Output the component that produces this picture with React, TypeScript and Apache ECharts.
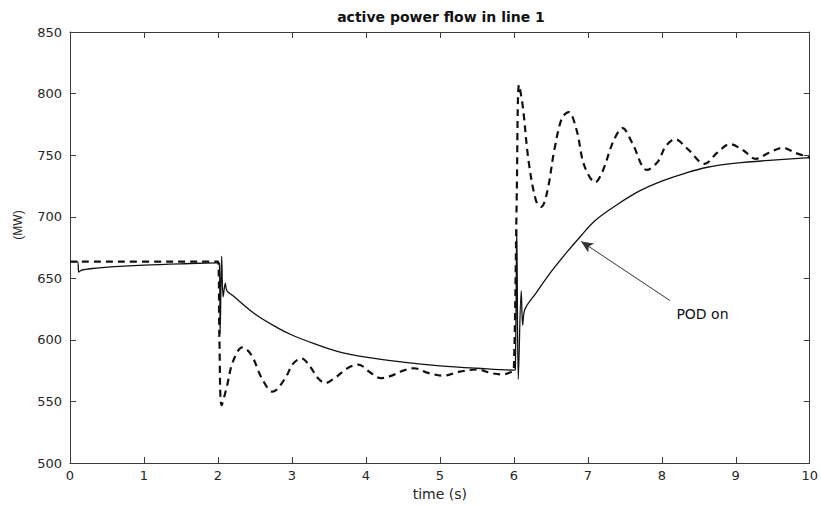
import React, { useEffect, useRef } from "react";
import * as echarts from "echarts";

const titleText = "active power flow in line 1";
const xName = "time (s)";
const yName = "(MW)";
const annotationText = "POD on";

const xTicks = { min: 0, max: 10, interval: 1 };
const yTicks = { min: 500, max: 850, interval: 50 };

// POD on (solid)
const podOnTime = [
  0, 0.1, 0.12, 0.15, 0.3, 0.6, 1.0, 1.5, 2.0, 2.02, 2.03, 2.05, 2.07, 2.1, 2.12, 2.2,
  2.5, 2.8, 3.0, 3.3, 3.6, 4.0, 4.5, 5.0, 5.5, 6.0, 6.02, 6.04, 6.06, 6.1, 6.12, 6.15,
  6.3, 6.5, 6.7, 6.9, 7.1, 7.4, 7.7, 8.0, 8.3, 8.6, 9.0, 9.5, 10,
];
const podOnValue = [
  663.5, 663.5, 655, 656.5, 658, 659.5, 660.8, 661.8, 662.5, 662, 605, 668, 635, 646, 640, 636,
  621, 610, 604, 597, 591, 586, 582, 579, 577, 575.5, 576, 690, 568, 640, 612, 625,
  638, 655, 670, 684, 697, 710, 721, 729, 735, 740, 743.5, 746, 748,
];

// POD off (dashed)
const podOffTime = [
  0, 2.0, 2.02, 2.05, 2.12, 2.2, 2.33, 2.45, 2.6, 2.74, 2.9, 3.02, 3.13, 3.25, 3.35, 3.45,
  3.6, 3.75, 3.9, 4.05, 4.2, 4.35, 4.5, 4.65, 4.85, 5.05, 5.25, 5.5, 5.7, 5.85, 5.97, 6.0,
  6.04, 6.07, 6.12, 6.2, 6.3, 6.37, 6.45, 6.55, 6.65, 6.74, 6.85, 6.95, 7.1, 7.2, 7.35,
  7.47, 7.6, 7.8, 7.95, 8.05, 8.18, 8.35, 8.58, 8.75, 8.92, 9.1, 9.27, 9.45, 9.64, 9.8, 10,
];
const podOffValue = [
  663.5, 663.5, 600, 547, 562, 582, 594, 588, 568, 558, 568, 581, 585, 578, 569, 565,
  570, 577, 580, 574, 569, 571, 575, 577, 573, 571, 574, 576, 573, 572, 574, 575,
  720, 807, 790, 745, 713, 708, 720, 755, 780, 785, 770, 742, 728, 737, 762,
  772, 760, 738, 745, 757, 763, 755, 743, 752, 759, 754, 747, 752, 756, 752, 748,
];

// Arrow annotation: from (tail) to (head) in data coordinates
const arrowTail = [8.11, 632];
const arrowHead = [6.91, 680];
const labelPos = [8.55, 621];

const FONT = "DejaVu Sans";
const AXIS_COLOR = "#3a3a3a";
const TEXT_COLOR = "#262626";

export default function App() {
  const ref = useRef<HTMLDivElement>(null);

  useEffect(() => {
    document.body.style.margin = "0";
    if (!ref.current) return;
    const chart = echarts.init(ref.current, undefined, { renderer: "svg" });

    const axisCommon = {
      type: "value" as const,
      axisLine: { show: true, onZero: false, lineStyle: { color: AXIS_COLOR, width: 1 } },
      axisTick: { show: true, inside: true, length: 6, lineStyle: { color: AXIS_COLOR } },
      splitLine: { show: false },
    };

    chart.setOption({
      animation: false,
      backgroundColor: "#ffffff",
      grid: { left: 70, right: 9, top: 32, bottom: 41, containLabel: false },
      xAxis: [
        {
          ...axisCommon,
          ...xTicks,
          position: "bottom",
          axisLabel: { color: TEXT_COLOR, fontFamily: FONT, fontSize: 13, margin: 6 },
          name: xName,
          nameLocation: "middle",
          nameGap: 21,
          nameTextStyle: { color: TEXT_COLOR, fontFamily: FONT, fontSize: 14 },
        },
        {
          ...axisCommon,
          ...xTicks,
          position: "top",
          axisLabel: { show: false },
        },
      ],
      yAxis: [
        {
          ...axisCommon,
          ...yTicks,
          position: "left",
          axisLabel: { color: TEXT_COLOR, fontFamily: FONT, fontSize: 13, margin: 8 },
        },
        {
          ...axisCommon,
          ...yTicks,
          position: "right",
          axisLabel: { show: false },
        },
      ],
      graphic: [
        {
          type: "text",
          x: 441,
          y: 17,
          style: {
            text: titleText,
            fill: "#111",
            font: `bold 14px "${FONT}"`,
            textAlign: "center",
            textVerticalAlign: "middle",
          },
        },
        {
          type: "text",
          x: 18,
          y: 225,
          rotation: Math.PI / 2,
          style: {
            text: yName,
            fill: TEXT_COLOR,
            font: `12px "Liberation Sans"`,
            textAlign: "center",
            textVerticalAlign: "middle",
          },
        },
      ],
      series: [
        {
          name: "POD on",
          type: "line",
          xAxisIndex: 0,
          yAxisIndex: 0,
          data: podOnTime.map((t, i) => [t, podOnValue[i]]),
          showSymbol: false,
          smooth: 0.35,
          lineStyle: { color: "#111", width: 1.3, type: "solid" },
          silent: true,
          markLine: {
            silent: true,
            animation: false,
            symbol: ["none", "arrow"],
            symbolSize: [8, 12],
            label: { show: false },
            lineStyle: { color: "#333", width: 1, type: "solid" },
            data: [[{ coord: arrowTail }, { coord: arrowHead }]],
          },
          markPoint: {
            silent: true,
            symbol: "circle",
            symbolSize: 0,
            label: {
              show: true,
              formatter: annotationText,
              position: "inside",
              color: "#111",
              fontFamily: FONT,
              fontSize: 14,
            },
            data: [{ coord: labelPos }],
          },
        },
        {
          name: "POD off",
          type: "line",
          xAxisIndex: 0,
          yAxisIndex: 0,
          data: podOffTime.map((t, i) => [t, podOffValue[i]]),
          showSymbol: false,
          smooth: 0.35,
          lineStyle: { color: "#111", width: 2.2, type: [7, 5] },
          silent: true,
        },
      ],
    });

    return () => chart.dispose();
  }, []);

  return <div ref={ref} style={{ width: 821, height: 506 }} />;
}
